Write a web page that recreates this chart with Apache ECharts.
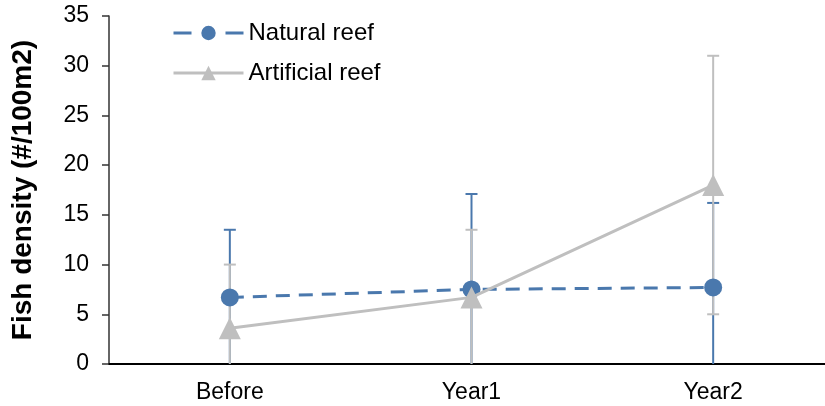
<!DOCTYPE html>
<html>
<head>
<meta charset="utf-8">
<script src="https://cdn.jsdelivr.net/npm/echarts@6/dist/echarts.min.js"></script>
<style>
  html, body { margin: 0; padding: 0; background: #fff; overflow: hidden; }
  /* the plot area runs slightly past the right edge of the window */
  #chart { width: 834px; height: 406px; }
</style>
</head>
<body>
<div id="chart"></div>
<script>
// Survey periods
const periods = ['Before', 'Year1', 'Year2'];

// Mean fish density (#/100m2) per period
const naturalMean = [6.7, 7.5, 7.7];
const artificialMean = [3.6, 6.7, 18.0];

// Error bar half-widths (±)
const naturalErr = [6.8, 9.6, 8.5];
const artificialErr = [6.4, 6.8, 13.0];

// Y axis ticks
const yMin = 0, yMax = 35, yStep = 5;

const BLUE = '#4a78ad';
const GRAY = '#bfbfbf';
const FONT = 'Liberation Sans, Arial, sans-serif';

function errorData(mean, err) {
  return mean.map((m, i) => [i, m - err[i], m + err[i]]);
}

function errorSeries(name, mean, err, color, z) {
  return {
    type: 'custom',
    name: name + ' err',
    z: z,
    clip: true,
    silent: true,
    data: errorData(mean, err),
    renderItem: function (params, api) {
      const x = api.value(0);
      const lo = api.coord([x, api.value(1)]);
      const hi = api.coord([x, api.value(2)]);
      const cap = 6;
      const style = { stroke: color, lineWidth: 2, fill: null };
      const cs = params.coordSys;
      const yTop = cs.y, yBot = cs.y + cs.height;
      const children = [{
        type: 'line',
        shape: { x1: hi[0], y1: Math.max(hi[1], yTop), x2: lo[0], y2: Math.min(lo[1], yBot) },
        style: style
      }];
      if (hi[1] >= yTop - 0.5) {
        children.push({ type: 'line', shape: { x1: hi[0] - cap, y1: hi[1], x2: hi[0] + cap, y2: hi[1] }, style: style });
      }
      if (lo[1] <= yBot + 1.5) {
        children.push({ type: 'line', shape: { x1: lo[0] - cap, y1: lo[1], x2: lo[0] + cap, y2: lo[1] }, style: style });
      }
      return { type: 'group', children: children };
    }
  };
}

const chart = echarts.init(document.getElementById('chart'), null, { renderer: 'canvas' });

chart.setOption({
  animation: false,
  backgroundColor: '#fff',
  textStyle: { fontFamily: FONT },
  grid: { left: 109, top: 16, right: 0, height: 348, containLabel: false },
  legend: {
    orient: 'vertical',
    left: 172,
    top: 21,
    padding: 0,
    itemWidth: 70,
    itemHeight: 18,
    itemGap: 16,
    textStyle: { fontFamily: FONT, fontSize: 24, color: '#000', padding: 0 },
    data: [
      { name: 'Natural reef', lineStyle: { width: 3, type: [18, 34] } },
      { name: 'Artificial reef', lineStyle: { width: 3 } }
    ]
  },
  xAxis: {
    type: 'category',
    data: periods,
    boundaryGap: true,
    axisLine: { lineStyle: { color: '#000', width: 2 } },
    axisTick: { show: false },
    axisLabel: { fontFamily: FONT, fontSize: 23, color: '#000', margin: 17 },
    splitLine: { show: false }
  },
  yAxis: {
    type: 'value',
    min: yMin,
    max: yMax,
    interval: yStep,
    name: 'Fish density (#/100m2)',
    nameLocation: 'middle',
    nameGap: 72,
    nameTextStyle: { fontFamily: FONT, fontSize: 28, fontWeight: 'bold', color: '#000' },
    axisLine: { show: true, lineStyle: { color: '#333', width: 1.5 } },
    axisTick: { show: true, length: 7, lineStyle: { color: '#333', width: 1.5 } },
    axisLabel: { fontFamily: FONT, fontSize: 23, color: '#000', margin: 20 },
    splitLine: { show: false }
  },
  series: [
    errorSeries('Natural reef', naturalMean, naturalErr, BLUE, 1),
    errorSeries('Artificial reef', artificialMean, artificialErr, GRAY, 2),
    {
      name: 'Natural reef',
      type: 'line',
      z: 3,
      data: naturalMean,
      symbol: 'circle',
      symbolSize: 18,
      itemStyle: { color: BLUE },
      lineStyle: { color: BLUE, width: 3, type: [14, 9] }
    },
    {
      name: 'Artificial reef',
      type: 'line',
      z: 4,
      data: artificialMean,
      symbol: 'triangle',
      symbolSize: 22,
      itemStyle: { color: GRAY },
      lineStyle: { color: GRAY, width: 3 }
    }
  ]
});
</script>
</body>
</html>
